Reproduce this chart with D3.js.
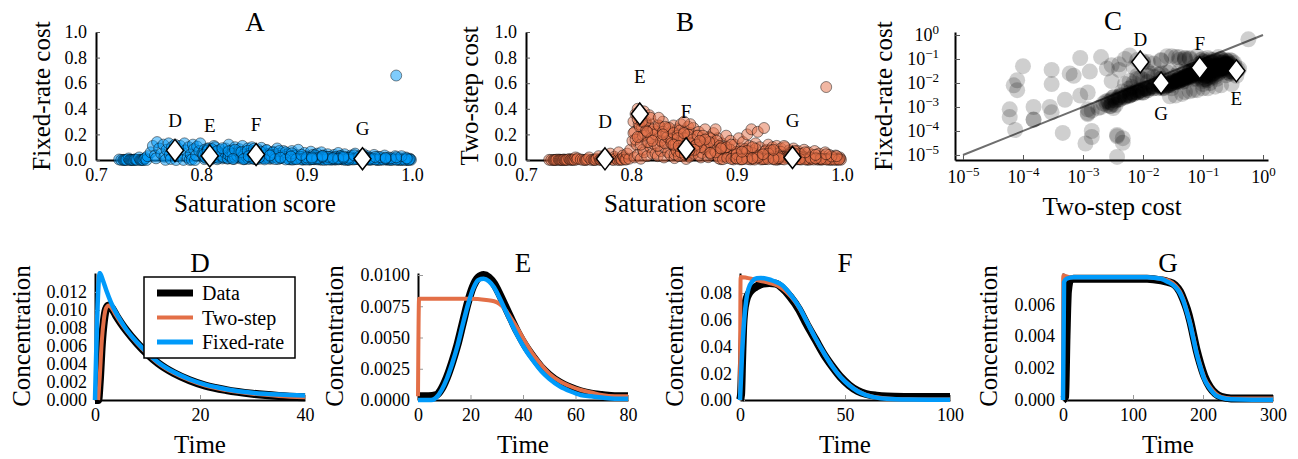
<!DOCTYPE html>
<html>
<head>
<meta charset="utf-8">
<script src="https://cdn.jsdelivr.net/npm/d3@7"></script>
<style>
  body { margin: 0; background: #fff; }
  svg text { font-family: "Liberation Serif", "Times New Roman", serif; fill: #000; }
</style>
</head>
<body>
<svg id="chart" width="1298" height="459"></svg>
<script>
/**********************
***** DATA *****
**********************/

// one row per simulated run: saturation score, fixed-rate cost, two-step cost
const scatterRuns = [
  [0.722,0.004,0.0012],[0.724,0.00038,0.00006],[0.726,0.0008,0.00006],[0.727,0.00029,0.00015],
  [0.728,0.00011,0.000074],[0.729,0.0011,0.0028],[0.731,0.012,0.003],[0.732,0.00056,0.0012],
  [0.733,0.0005,0.0012],[0.734,0.000083,0.00046],[0.735,0.0003,0.00015],[0.736,0.000032,0.0046],
  [0.737,0.005,0.00008],[0.738,0.002,0.0005],[0.739,0.000056,0.0014],[0.741,0.02,0.008],
  [0.742,0.001,0.00028],[0.743,0.00006,0.0037],[0.744,0.0001,0.0014],[0.745,0.000068,0.0037],
  [0.746,0.009,0.0003],[0.747,0.015,0.02],[0.748,0.0000083,0.0037],[0.749,0.03,0.012],
  [0.752,0.06,0.004],[0.754,0.11,0.0009],[0.756,0.035,0.0003],[0.757,0.013,0.00008],
  [0.758,0.14,0.006],[0.760,0.09,0.02],[0.762,0.05,0.0001],[0.764,0.12,0.002],
  [0.765,0.025,0.0006],[0.766,0.001,0.00015],[0.767,0.08,0.01],[0.769,0.13,0.03],
  [0.770,0.04,0.0025],[0.771,0.008,0.00007],[0.772,0.1,0.005],[0.774,0.065,0.015],
  [0.775,0.12,0.04],[0.776,0.00003,0.0011],[0.777,0.03,0.0013],[0.778,0.09,0.008],
  [0.780,0.11,0.05],[0.782,0.055,0.003],[0.783,0.0006,0.0003],[0.784,0.13,0.025],
  [0.785,0.075,0.012],[0.787,0.02,0.0007],[0.788,0.1,0.06],[0.789,0.0008,0.0012],
  [0.790,0.045,0.007],[0.791,0.003,0.0009],[0.792,0.12,0.035],[0.793,0.085,0.02],
  [0.794,0.00005,0.0046],[0.795,0.035,0.004],[0.796,0.105,0.05],[0.798,0.07,0.01],
  [0.799,0.13,0.08],
  [0.801,0.05,0.15],[0.802,0.03,0.3],[0.803,0.08,0.22],[0.803,0.007,0.02],
  [0.804,0.02,0.36],[0.805,0.06,0.12],[0.806,0.04,0.4],[0.806,0.09,0.04],
  [0.807,0.09,0.28],[0.808,0.025,0.18],[0.809,0.05,0.34],[0.809,0.004,0.01],
  [0.810,0.07,0.25],[0.811,0.015,0.08],[0.812,0.035,0.38],[0.812,0.11,0.06],
  [0.813,0.1,0.2],[0.814,0.045,0.3],[0.815,0.02,0.14],[0.815,0.006,0.03],
  [0.816,0.06,0.27],[0.817,0.03,0.35],[0.818,0.08,0.1],[0.819,0.04,0.22],
  [0.820,0.012,0.05],
  [0.821,0.06,0.28],[0.822,0.02,0.12],[0.823,0.09,0.05],[0.824,0.035,0.22],
  [0.825,0.01,0.03],[0.826,0.12,0.18],[0.827,0.05,0.26],[0.828,0.015,0.07],
  [0.829,0.075,0.14],[0.830,0.03,0.3],[0.831,0.008,0.02],[0.832,0.1,0.1],
  [0.833,0.04,0.2],[0.834,0.06,0.25],[0.835,0.02,0.06],[0.836,0.085,0.16],
  [0.837,0.012,0.04],[0.838,0.05,0.22],[0.839,0.11,0.12],[0.840,0.03,0.27],
  [0.841,0.007,0.015],[0.842,0.065,0.09],[0.843,0.04,0.19],[0.844,0.09,0.24],
  [0.845,0.018,0.05],[0.846,0.05,0.14],[0.847,0.025,0.28],[0.848,0.1,0.2],
  [0.849,0.011,0.03],[0.850,0.07,0.11],[0.851,0.035,0.23],[0.852,0.005,0.008],
  [0.853,0.055,0.17],[0.854,0.08,0.26],[0.855,0.02,0.07],[0.856,0.045,0.21],
  [0.857,0.095,0.13],[0.858,0.03,0.04],[0.859,0.06,0.25],[0.860,0.014,0.1],
  [0.862,0.075,0.19],[0.864,0.04,0.22],[0.866,0.01,0.02],[0.868,0.065,0.15],
  [0.870,0.028,0.24],[0.872,0.09,0.09],[0.874,0.05,0.18],[0.876,0.016,0.05],
  [0.878,0.07,0.21],[0.880,0.035,0.12],
  [0.882,0.05,0.17],[0.884,0.02,0.08],[0.885,0.004,0.006],[0.886,0.07,0.13],
  [0.888,0.012,0.03],[0.890,0.04,0.19],[0.892,0.08,0.1],[0.894,0.025,0.15],
  [0.896,0.006,0.015],[0.897,0.003,0.0045],[0.898,0.055,0.12],[0.900,0.03,0.06],
  [0.902,0.015,0.17],[0.903,0.011,0.035],[0.904,0.065,0.09],[0.906,0.04,0.14],
  [0.908,0.008,0.025],[0.910,0.05,0.2],[0.912,0.02,0.11],[0.913,0.0025,0.004],
  [0.914,0.06,0.24],[0.916,0.035,0.07],[0.917,0.014,0.045],[0.918,0.01,0.13],
  [0.920,0.045,0.22],[0.922,0.025,0.1],[0.924,0.005,0.012],[0.926,0.04,0.25],
  [0.927,0.0035,0.007],[0.928,0.018,0.08],[0.930,0.055,0.12],[0.932,0.03,0.05],
  [0.933,0.006,0.018],[0.934,0.009,0.1],[0.936,0.045,0.07],[0.938,0.02,0.11],
  [0.939,0.002,0.003],[0.940,0.004,0.009],[0.942,0.035,0.09],[0.944,0.015,0.04],
  [0.946,0.05,0.1],[0.948,0.007,0.02],[0.950,0.03,0.075],
  [0.952,0.02,0.06],[0.954,0.045,0.09],[0.956,0.008,0.02],[0.957,0.0025,0.005],
  [0.958,0.03,0.07],[0.960,0.004,0.01],[0.962,0.015,0.05],[0.964,0.04,0.08],
  [0.966,0.006,0.015],[0.967,0.0018,0.0035],[0.968,0.025,0.06],[0.970,0.003,0.006],
  [0.972,0.012,0.04],[0.974,0.035,0.07],[0.976,0.005,0.012],[0.977,0.0012,0.0025],
  [0.978,0.02,0.05],[0.980,0.002,0.004],[0.982,0.01,0.03],[0.984,0.03,0.06],
  [0.986,0.004,0.008],[0.987,0.0009,0.0018],[0.988,0.015,0.04],[0.990,0.0015,0.003],
  [0.992,0.008,0.02],[0.994,0.02,0.035],[0.995,0.0007,0.0014],[0.996,0.003,0.006],
  [0.998,0.01,0.02],[0.999,0.001,0.002],
  [0.802,0.041,0.21],[0.804,0.018,0.16],[0.806,0.028,0.32],[0.808,0.055,0.26],
  [0.809,0.013,0.12],[0.811,0.036,0.19],[0.813,0.024,0.29],[0.814,0.062,0.23],
  [0.816,0.017,0.14],[0.818,0.045,0.33],[0.819,0.031,0.17],[0.821,0.021,0.24],
  [0.823,0.052,0.2],[0.825,0.014,0.11],[0.826,0.038,0.27],[0.828,0.026,0.15],
  [0.830,0.048,0.22],[0.832,0.019,0.13],[0.834,0.033,0.18],[0.836,0.058,0.25],
  [0.838,0.022,0.16],[0.840,0.042,0.21],[0.842,0.016,0.12],[0.844,0.029,0.19],
  [0.846,0.05,0.23],[0.848,0.023,0.14],[0.850,0.037,0.17],[0.852,0.012,0.1],
  [0.854,0.044,0.2],[0.856,0.027,0.13],[0.858,0.034,0.16],[0.860,0.02,0.11],
  [0.863,0.046,0.19],[0.866,0.025,0.14],[0.869,0.039,0.12],[0.872,0.017,0.1],
  [0.875,0.032,0.17],[0.878,0.024,0.13],[0.881,0.041,0.15],[0.884,0.015,0.11],
  [0.841,0.011,0.045],[0.843,0.024,0.07],[0.845,0.008,0.03],[0.847,0.017,0.06],
  [0.849,0.031,0.09],[0.851,0.013,0.04],[0.853,0.021,0.08],[0.855,0.009,0.025],
  [0.857,0.027,0.065],[0.859,0.015,0.05],[0.861,0.035,0.095],[0.864,0.011,0.035],
  [0.867,0.019,0.055],[0.870,0.026,0.085],[0.873,0.007,0.022],[0.876,0.016,0.042],
  [0.879,0.023,0.075],[0.882,0.012,0.032],[0.885,0.029,0.06],[0.888,0.009,0.028],
  [0.891,0.018,0.05],[0.894,0.025,0.08],[0.897,0.011,0.038],[0.900,0.02,0.062],
  [0.903,0.006,0.021],[0.906,0.014,0.044],[0.909,0.028,0.072],[0.912,0.01,0.03],
  [0.915,0.017,0.056],[0.918,0.022,0.088],[0.921,0.008,0.026],[0.924,0.013,0.04],
  [0.927,0.024,0.068],[0.930,0.011,0.034],[0.933,0.019,0.052],[0.936,0.007,0.024],
  [0.939,0.015,0.046],[0.942,0.021,0.064],[0.945,0.009,0.029],[0.948,0.013,0.038],
  [0.951,0.018,0.058],[0.954,0.006,0.022],[0.957,0.012,0.036],[0.960,0.016,0.048],
  [0.963,0.008,0.027],[0.866,0.04,0.1],[0.888,0.033,0.09],[0.908,0.037,0.085],
  [0.932,0.03,0.075],[0.955,0.026,0.07],
  [0.883,0.006,0.012],[0.887,0.003,0.006],[0.891,0.009,0.016],[0.895,0.004,0.008],
  [0.899,0.0075,0.014],[0.903,0.0028,0.005],[0.907,0.0055,0.011],[0.911,0.011,0.019],
  [0.915,0.0035,0.007],[0.919,0.0065,0.013],[0.923,0.0022,0.0042],[0.927,0.0048,0.009],
  [0.931,0.0085,0.017],[0.935,0.003,0.0055],[0.939,0.006,0.011],[0.943,0.0042,0.0075],
  [0.947,0.0095,0.018],[0.951,0.0025,0.0048],[0.955,0.0052,0.0095],[0.959,0.0034,0.0062],
  [0.963,0.0072,0.015],[0.967,0.0021,0.0038],[0.971,0.0046,0.0085],[0.975,0.0062,0.012],
  [0.979,0.0029,0.0052],[0.983,0.0039,0.0068],[0.987,0.0058,0.0105],[0.991,0.0019,0.0034],
  [0.995,0.0036,0.0064],[0.998,0.0049,0.0088],[0.961,0.0013,0.0031],[0.969,0.0016,0.0027],
  [0.973,0.0027,0.0033],[0.981,0.0011,0.0029],[0.989,0.0024,0.0031],[0.993,0.0017,0.0024],
  [0.997,0.0014,0.0022],[0.905,0.0068,0.0065],[0.925,0.0058,0.0058],[0.945,0.0044,0.0045],
  [0.965,0.0031,0.0042],[0.985,0.0026,0.0039],[0.917,0.0012,0.0035],[0.937,0.0018,0.0026],
  [0.953,0.0009,0.0032],
  [0.806,0.075,0.18],[0.810,0.085,0.3],[0.815,0.07,0.22],[0.820,0.092,0.15],
  [0.826,0.068,0.33],[0.832,0.08,0.26],[0.838,0.062,0.13],[0.844,0.072,0.17],
  [0.850,0.088,0.21],[0.856,0.065,0.28],[0.862,0.078,0.12],[0.868,0.058,0.19],
  [0.874,0.07,0.14],[0.880,0.06,0.24],[0.886,0.052,0.1],
  [0.830,0.008,0.2],[0.840,0.006,0.12],[0.850,0.009,0.3],[0.860,0.005,0.08],
  [0.870,0.007,0.16],[0.880,0.0045,0.06],[0.890,0.006,0.1],[0.900,0.0035,0.045],
  [0.910,0.005,0.07],[0.920,0.003,0.035],[0.930,0.0042,0.05],[0.940,0.0028,0.028],
  [0.900,0.02,0.012],[0.910,0.015,0.008],[0.920,0.025,0.02],[0.930,0.012,0.006],
  [0.940,0.018,0.015],[0.950,0.028,0.025],[0.960,0.01,0.007],[0.970,0.022,0.018],
  [0.980,0.014,0.01],[0.990,0.03,0.028],[0.905,0.009,0.005],[0.915,0.024,0.014],
  [0.935,0.016,0.009],[0.955,0.02,0.022],[0.975,0.011,0.012],
  [0.845,0.03,0.11],[0.855,0.022,0.075],[0.865,0.035,0.15],[0.875,0.018,0.055],
  [0.885,0.027,0.09],[0.895,0.04,0.12],[0.905,0.02,0.065],[0.915,0.032,0.1],
  [0.925,0.015,0.045],[0.935,0.026,0.08],[0.945,0.037,0.11],[0.955,0.019,0.05],
  [0.965,0.024,0.06],[0.975,0.017,0.04],[0.985,0.021,0.045],[0.995,0.013,0.03],
  [0.985,0.66,0.57]
];

// highlighted cases shown in the bottom row
const caseNames = ["D", "E", "F", "G"];
const caseSaturation = [0.775, 0.808, 0.852, 0.953];
const caseFixedRate = [0.075, 0.032, 0.043, 0.01];
const caseTwoStep = [0.009, 0.36, 0.088, 0.02];

const satTicks = [0.7, 0.8, 0.9, 1.0];
const costTicks = [0, 0.2, 0.4, 0.6, 0.8, 1.0];
const logTicks = [1e-5, 1e-4, 1e-3, 1e-2, 1e-1, 1];

// time courses: [time, concentration]
const dData = [[0,0],[0.6,0],[0.9,0.002],[1.3,0.0062],[1.7,0.0088],[2.1,0.0101],[2.6,0.0105],[3.2,0.0102],[4,0.0094],[5,0.0085],[6,0.0077],[8,0.0063],[10,0.0051],[12,0.0041],[15,0.003],[18,0.0022],[21,0.0016],[25,0.0011],[30,0.0007],[35,0.00045],[40,0.0003]];
const dTwoStep = [[0.6,0],[0.9,0.0025],[1.3,0.0066],[1.7,0.009],[2.1,0.0102],[2.6,0.0105],[3.2,0.0102],[4,0.0094],[5,0.0085],[6,0.0077],[8,0.0063],[10,0.0051],[12,0.0041],[15,0.003],[18,0.0022],[21,0.0016],[25,0.0011],[30,0.0007],[35,0.00045],[40,0.0003]];
const dFixedRate = [[0,0],[0.9,0.0141],[1.5,0.0133],[2.2,0.0121],[3,0.0109],[4,0.0097],[5,0.0087],[6,0.0078],[8,0.0064],[10,0.0052],[12,0.0042],[15,0.0031],[18,0.0023],[21,0.0017],[25,0.0012],[30,0.0008],[35,0.0006],[40,0.0005]];
const dTicksX = [0, 20, 40];
const dTicksY = [0, 0.002, 0.004, 0.006, 0.008, 0.010, 0.012];

const eData = [[0,0.0003],[4,0.0003],[7,0.0004],[9,0.0009],[11,0.0018],[13,0.003],[15,0.0044],[17,0.0061],[19,0.0078],[21,0.0091],[23,0.0098],[25,0.01],[27,0.0098],[29,0.0093],[31,0.0085],[33,0.0076],[35,0.0067],[38,0.0054],[41,0.0043],[44,0.0034],[47,0.0026],[50,0.002],[54,0.0014],[58,0.001],[62,0.0007],[66,0.0005],[70,0.0004],[75,0.0003],[80,0.0003]];
const eTwoStep = [[0,0.0003],[0.4,0.0081],[10,0.0081],[20,0.0081],[26,0.008],[29,0.0079],[31,0.0077],[33,0.0073],[35,0.0067],[38,0.0057],[41,0.0046],[44,0.0036],[47,0.0028],[50,0.0021],[54,0.0015],[58,0.0011],[62,0.0008],[66,0.0006],[70,0.0004],[75,0.0003],[80,0.0003]];
const eFixedRate = [[0,0],[5,0],[7,0.0002],[9,0.0008],[11,0.0017],[13,0.0029],[15,0.0043],[17,0.006],[19,0.0076],[21,0.0089],[23,0.0096],[25,0.0097],[27,0.0095],[29,0.009],[31,0.0082],[33,0.0073],[35,0.0064],[38,0.0051],[41,0.004],[44,0.0031],[47,0.0023],[50,0.0017],[54,0.0011],[58,0.0007],[62,0.0004],[66,0.0003],[70,0.0002],[75,0.0001],[80,0.0001]];
const eTicksX = [0, 20, 40, 60, 80];
const eTicksY = [0, 0.0025, 0.005, 0.0075, 0.01];

const fData = [[0,0],[0.5,0.004],[1,0.03],[1.5,0.055],[2,0.066],[3,0.075],[4,0.079],[6,0.083],[8,0.085],[11,0.087],[14,0.0875],[17,0.087],[20,0.084],[24,0.077],[28,0.068],[32,0.056],[36,0.045],[40,0.034],[44,0.025],[48,0.017],[52,0.011],[56,0.0068],[60,0.0045],[65,0.0032],[70,0.0026],[80,0.0023],[90,0.0022],[100,0.0022]];
const fTwoStep = [[0,0],[0.3,0.092],[3,0.0915],[6,0.0905],[10,0.089],[14,0.0875],[18,0.0855],[22,0.081],[26,0.074],[30,0.064],[34,0.052],[38,0.04],[42,0.03],[46,0.021],[50,0.014],[54,0.0088],[58,0.0052],[62,0.003],[70,0.0012],[80,0.0005],[90,0.0003],[100,0.0003]];
const fFixedRate = [[0,0],[1,0.035],[2,0.06],[3,0.075],[4,0.083],[6,0.089],[8,0.091],[10,0.0912],[13,0.0905],[16,0.089],[20,0.086],[24,0.079],[28,0.07],[32,0.058],[36,0.046],[40,0.035],[44,0.025],[48,0.017],[52,0.011],[56,0.0065],[60,0.0037],[65,0.0018],[70,0.0009],[80,0.0003],[90,0.0002],[100,0.0002]];
const fTicksX = [0, 50, 100];
const fTicksY = [0, 0.02, 0.04, 0.06, 0.08];

const gData = [[0,0],[3,0.0002],[5,0.004],[7,0.0068],[10,0.0075],[15,0.0076],[40,0.0076],[80,0.0076],[120,0.0076],[140,0.0075],[150,0.0074],[160,0.0072],[167,0.0068],[172,0.0063],[177,0.0057],[182,0.0049],[186,0.0041],[191,0.0031],[196,0.0023],[202,0.0015],[210,0.0008],[218,0.0004],[226,0.0002],[240,0.0001],[270,0.0001],[300,0.0001]];
const gTwoStep = [[0,0],[0.3,0.0078],[10,0.0077],[40,0.0077],[80,0.0077],[120,0.0077],[140,0.0076],[150,0.0075],[160,0.0072],[167,0.0068],[172,0.0063],[177,0.0056],[182,0.0048],[186,0.004],[191,0.003],[196,0.0022],[202,0.0014],[210,0.0008],[218,0.0004],[226,0.0002],[240,0.0001],[300,0.0001]];
const gFixedRate = [[0,0],[1.5,0.0074],[5,0.0076],[15,0.0077],[40,0.0077],[80,0.0077],[120,0.0077],[140,0.0076],[150,0.0074],[160,0.0071],[167,0.0067],[172,0.0062],[177,0.0055],[182,0.0047],[186,0.0039],[191,0.0029],[196,0.0021],[202,0.0013],[210,0.0007],[218,0.0003],[226,0.00015],[240,0.00005],[270,0.00002],[300,0.00002]];
const gTicksX = [0, 100, 200, 300];
const gTicksY = [0, 0.002, 0.004, 0.006];

const legendLabels = ["Data", "Two-step", "Fixed-rate"];

/**********************
***** BASIC SETUP *****
**********************/
const svg = d3.select("#chart");
const SERIF = '"Liberation Serif", "Times New Roman", serif';
const BLUE = "#009AFA";
const ORANGE = "#E36F47";
const TICK_FONT = 18;
const LABEL_FONT = 25;

function styleAxis(g) {
  g.attr("font-family", SERIF).attr("font-size", TICK_FONT);
  g.select(".domain").attr("stroke", "#000").attr("stroke-width", 2);
  g.selectAll(".tick line").attr("stroke", "#555").attr("stroke-width", 1);
  g.selectAll(".tick text").attr("fill", "#000");
}

function axisLabelX(text, x, y) {
  svg.append("text").attr("x", x).attr("y", y)
    .attr("text-anchor", "middle").attr("font-size", LABEL_FONT).text(text);
}
function axisLabelY(text, x, y) {
  svg.append("text").attr("transform", `translate(${x},${y}) rotate(-90)`)
    .attr("text-anchor", "middle").attr("font-size", LABEL_FONT).text(text);
}
function panelTitle(text, x, y) {
  svg.append("text").attr("x", x).attr("y", y)
    .attr("text-anchor", "middle").attr("font-size", 27).text(text);
}
function diamond(sel, cx, cy) {
  sel.append("path")
    .attr("d", `M${cx},${cy - 11}L${cx + 8.5},${cy}L${cx},${cy + 11}L${cx - 8.5},${cy}Z`)
    .attr("fill", "#fff").attr("stroke", "#000").attr("stroke-width", 1.5);
}

/***************************************
***** TOP ROW: SATURATION SCATTERS *****
***************************************/
function drawSaturationPanel(left, title, yLabel, yLabelX, costIndex, color, labelOffset) {
  const x = d3.scaleLinear().domain([0.7, 1.0]).range([left, left + 316]);
  const y = d3.scaleLinear().domain([0, 1]).range([160, 32]);

  const gx = svg.append("g").attr("transform", "translate(0,160)")
    .call(d3.axisBottom(x).tickValues(satTicks).tickFormat(d3.format(".1f"))
      .tickSizeInner(-4).tickSizeOuter(0).tickPadding(8));
  styleAxis(gx);
  const gy = svg.append("g").attr("transform", `translate(${left},0)`)
    .call(d3.axisLeft(y).tickValues(costTicks).tickFormat(d3.format(".1f"))
      .tickSizeInner(-4).tickSizeOuter(0).tickPadding(9));
  styleAxis(gy);

  svg.append("g").selectAll("circle")
    .data(scatterRuns)
    .join("circle")
      .attr("cx", d => x(d[0]))
      .attr("cy", d => y(d[costIndex]))
      .attr("r", 5.5)
      .attr("fill", color).attr("fill-opacity", 0.5)
      .attr("stroke", "#000").attr("stroke-opacity", 0.45).attr("stroke-width", 1);

  const costs = costIndex === 1 ? caseFixedRate : caseTwoStep;
  const marks = svg.append("g");
  caseNames.forEach((name, i) => {
    const cx = x(caseSaturation[i]), cy = y(costs[i]);
    diamond(marks, cx, cy);
    marks.append("text").attr("x", cx).attr("y", cy - labelOffset)
      .attr("text-anchor", "middle").attr("dominant-baseline", "central")
      .attr("font-size", 19).text(name);
  });

  panelTitle(title, left + 159, 31);
  axisLabelX("Saturation score", left + 159, 212);
  axisLabelY(yLabel, yLabelX, 96);
}

drawSaturationPanel(96, "A", "Fixed-rate cost", 50, 1, BLUE, 30);
drawSaturationPanel(526, "B", "Two-step cost", 478, 2, ORANGE, 37);

/*************************************
***** TOP ROW: COST VS COST (LOG) *****
*************************************/
function powerLabel(sel) {
  sel.each(function(d) {
    const t = d3.select(this).text("");
    const e = Math.round(Math.log10(d));
    t.append("tspan").text("10");
    t.append("tspan").attr("dy", "-0.55em").attr("font-size", 13)
      .text(e < 0 ? "\u2212" + Math.abs(e) : String(e));
  });
}

(function drawCostPanel() {
  const x = d3.scaleLog().domain([Math.pow(10, -5.133), Math.pow(10, 0.083)]).range([955, 1268]);
  const y = d3.scaleLog().domain([Math.pow(10, -5.21), Math.pow(10, 0.125)]).range([160, 32]);

  const gx = svg.append("g").attr("transform", "translate(0,160)")
    .call(d3.axisBottom(x).tickValues(logTicks).tickSizeInner(-5).tickSizeOuter(0).tickPadding(10));
  styleAxis(gx);
  gx.selectAll(".tick text").call(powerLabel);
  const gy = svg.append("g").attr("transform", "translate(955,0)")
    .call(d3.axisLeft(y).tickValues(logTicks).tickSizeInner(-5).tickSizeOuter(0).tickPadding(16));
  styleAxis(gy);
  gy.selectAll(".tick text").call(powerLabel);

  // identity line
  svg.append("line")
    .attr("x1", x(1e-5)).attr("y1", y(1e-5)).attr("x2", x(1)).attr("y2", y(1))
    .attr("stroke", "#6e6e6e").attr("stroke-width", 2);

  svg.append("g").selectAll("circle")
    .data(scatterRuns)
    .join("circle")
      .attr("cx", d => x(d[2]))
      .attr("cy", d => y(d[1]))
      .attr("r", 8)
      .attr("fill", "#000").attr("fill-opacity", 0.19);

  const labelDy = {D: -22, E: 28, F: -24, G: 31};
  const marks = svg.append("g");
  caseNames.forEach((name, i) => {
    const cx = x(caseTwoStep[i]), cy = y(caseFixedRate[i]);
    diamond(marks, cx, cy);
    marks.append("text").attr("x", cx).attr("y", cy + labelDy[name])
      .attr("text-anchor", "middle").attr("dominant-baseline", "central")
      .attr("font-size", 19).text(name);
  });

  panelTitle("C", 1113, 30);
  axisLabelX("Two-step cost", 1112, 215);
  axisLabelY("Fixed-rate cost", 892, 96);
})();

/***************************************
***** BOTTOM ROW: TIME COURSES *****
***************************************/
const bottomPanels = [
  {name: "D", left: 95,   tMax: 40,  cMax: 0.0141, xTicks: dTicksX, yTicks: dTicksY, fmt: ".3f", labelX: 30,
   data: dData, two: dTwoStep, fixed: dFixedRate, legend: true},
  {name: "E", left: 418,  tMax: 80,  cMax: 0.01016, xTicks: eTicksX, yTicks: eTicksY, fmt: ".4f", labelX: 343,
   data: eData, two: eTwoStep, fixed: eFixedRate},
  {name: "F", left: 740,  tMax: 100, cMax: 0.095, xTicks: fTicksX, yTicks: fTicksY, fmt: ".2f", labelX: 683,
   data: fData, two: fTwoStep, fixed: fFixedRate},
  {name: "G", left: 1063, tMax: 300, cMax: 0.00796, xTicks: gTicksX, yTicks: gTicksY, fmt: ".3f", labelX: 997,
   data: gData, two: gTwoStep, fixed: gFixedRate}
];

bottomPanels.forEach((p, k) => {
  const x = d3.scaleLinear().domain([0, p.tMax]).range([p.left, p.left + 210]);
  const y = d3.scaleLinear().domain([0, p.cMax]).range([400, 273]);

  const gx = svg.append("g").attr("transform", "translate(0,400)")
    .call(d3.axisBottom(x).tickValues(p.xTicks).tickSizeInner(-5).tickSizeOuter(0).tickPadding(8));
  styleAxis(gx);
  gx.selectAll(".tick line").attr("stroke", "#999");
  const gy = svg.append("g").attr("transform", `translate(${p.left},0)`)
    .call(d3.axisLeft(y).tickValues(p.yTicks).tickFormat(d3.format(p.fmt))
      .tickSizeInner(-5).tickSizeOuter(0).tickPadding(8));
  styleAxis(gy);
  gy.selectAll(".tick line").attr("stroke", "#999");

  svg.append("clipPath").attr("id", "clip" + k)
    .append("rect").attr("x", p.left - 4).attr("y", 271).attr("width", 218).attr("height", 134);

  const line = d3.line().x(d => x(d[0])).y(d => y(d[1])).curve(d3.curveMonotoneX);
  const plot = svg.append("g").attr("clip-path", `url(#clip${k})`);
  plot.append("path").datum(p.data).attr("d", line)
    .attr("fill", "none").attr("stroke", "#000").attr("stroke-width", 8)
    .attr("stroke-linejoin", "round");
  plot.append("path").datum(p.two).attr("d", line)
    .attr("fill", "none").attr("stroke", ORANGE).attr("stroke-width", 4)
    .attr("stroke-linejoin", "round");
  plot.append("path").datum(p.fixed).attr("d", line)
    .attr("fill", "none").attr("stroke", BLUE).attr("stroke-width", 4.5)
    .attr("stroke-linejoin", "round");

  panelTitle(p.name, p.left + 105, 272);
  axisLabelX("Time", p.left + 105, 453);
  axisLabelY("Concentration", p.labelX, 336);

  if (p.legend) {
    const lg = svg.append("g").attr("transform", "translate(144,277)");
    lg.append("rect").attr("width", 151).attr("height", 81)
      .attr("fill", "#fff").attr("stroke", "#000").attr("stroke-width", 1.5);
    const swatch = [["#000", 7], [ORANGE, 4], [BLUE, 5]];
    legendLabels.forEach((lab, i) => {
      const cy = 16 + i * 24.5;
      lg.append("line").attr("x1", 13).attr("x2", 49).attr("y1", cy).attr("y2", cy)
        .attr("stroke", swatch[i][0]).attr("stroke-width", swatch[i][1]);
      lg.append("text").attr("x", 58).attr("y", cy).attr("dominant-baseline", "central")
        .attr("font-size", 20).text(lab);
    });
  }
});
</script>
</body>
</html>
